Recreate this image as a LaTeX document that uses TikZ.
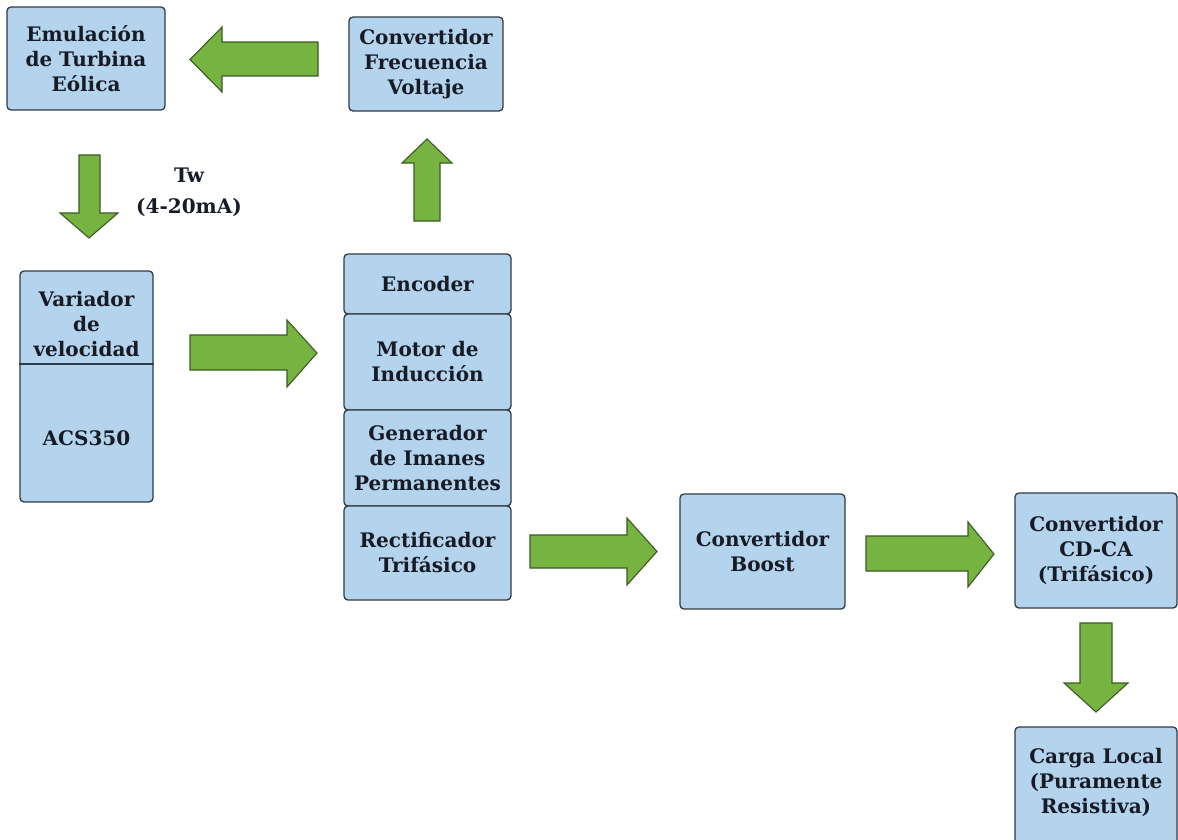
\documentclass[tikz,border=0pt]{standalone}
\usepackage{fontspec}
\setmainfont{DejaVu Serif}
\definecolor{boxfill}{HTML}{B4D3EC}
\definecolor{boxline}{HTML}{2F3B45}
\definecolor{flowfill}{HTML}{77B341}
\definecolor{flowline}{HTML}{3C5A26}
\definecolor{txt}{HTML}{161B26}
\begin{document}
\begin{tikzpicture}[x=1pt,y=-1pt,
  every node/.style={font=\fontsize{20}{25}\selectfont\bfseries, text=txt, align=center, inner sep=0pt},
  box/.style={draw=boxline, fill=boxfill, line width=1.3pt, rounded corners=4pt},
  flow/.style={draw=flowline, fill=flowfill, line width=1.1pt, line join=miter}]
\useasboundingbox (0,0) rectangle (1178,839);
\clip (0,0) rectangle (1178,839);
\fill[white] (0,0) rectangle (1178,839);

% blocks
\node[box, minimum width=158, minimum height=103] (emu) at (86,58.5) {Emulación\\de Turbina\\Eólica};
\node[box, minimum width=154, minimum height=94] (cfv) at (426,64) {Convertidor\\Frecuencia\\Voltaje};
\node[box, minimum width=133, minimum height=231] (var) at (86.5,386.5) {};
\draw[boxline, line width=1.3pt] (var.west |- 0,364) -- (var.east |- 0,364);
\node (vartxt) at (86.5,324) {Variador\\de\\velocidad};
\node (acs) at (86.5,438) {ACS350};

\node[box, minimum width=167, minimum height=60] (enc) at (427.5,284) {Encoder};
\node[box, minimum width=167, minimum height=96] (mot) at (427.5,362) {Motor de\\Inducción};
\node[box, minimum width=167, minimum height=96] (gen) at (427.5,458) {Generador\\de Imanes\\Permanentes};
\node[box, minimum width=167, minimum height=94] (rec) at (427.5,553) {Rectificador\\Trifásico};

\node[box, minimum width=165, minimum height=115] (boost) at (762.5,551.5) {Convertidor\\Boost};
\node[box, minimum width=162, minimum height=115] (cdca) at (1096,550.5) {Convertidor\\CD-CA\\(Trifásico)};
\node[box, minimum width=162, minimum height=130] (carga) at (1096,792) {};
\node (cargatxt) at (1096,782) {Carga Local\\(Puramente\\Resistiva)};

% signal label
\node[font=\fontsize{20}{31}\selectfont\bfseries] (tw) at (189,192.5) {Tw\\(4-20mA)};

% block arrows
% cfv -> emu
\draw[flow] (318,42) -- (222,42) -- (222,27) -- (190,59.5) -- (222,92) -- (222,76) -- (318,76) -- cycle;
% emu -> var
\draw[flow] (79,155) -- (100,155) -- (100,213) -- (118,213) -- (89,238) -- (60,213) -- (79,213) -- cycle;
% var -> enc stack
\draw[flow] (190,335) -- (287,335) -- (287,320) -- (317,353) -- (287,387) -- (287,370) -- (190,370) -- cycle;
% stack -> cfv
\draw[flow] (414,221) -- (414,163) -- (402,163) -- (427,139) -- (452,163) -- (440,163) -- (440,221) -- cycle;
% rec -> boost
\draw[flow] (530,535) -- (627,535) -- (627,518) -- (657,551.5) -- (627,585) -- (627,568) -- (530,568) -- cycle;
% boost -> cdca
\draw[flow] (866,536) -- (968,536) -- (968,522) -- (994,554) -- (968,587) -- (968,571) -- (866,571) -- cycle;
% cdca -> carga
\draw[flow] (1080,623) -- (1112,623) -- (1112,683) -- (1128,683) -- (1096,712) -- (1064,683) -- (1080,683) -- cycle;
\end{tikzpicture}
\end{document}
